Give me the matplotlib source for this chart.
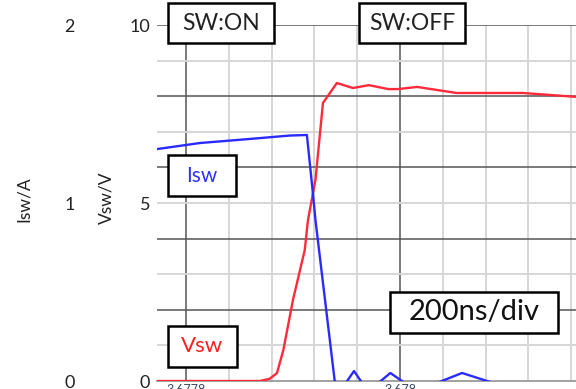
import matplotlib.pyplot as plt
from matplotlib.patches import Rectangle

plt.rcParams['font.family'] = ['Lato', 'DejaVu Sans']

# time in ns relative to 3.6778 ms (200 ns per major division)
t_vsw = [-27, 69, 78, 85, 91, 100, 111, 114, 121, 128, 141, 156, 171, 189, 198, 216, 253, 315, 365]
vsw = [0, 0, 0.06, 0.22, 0.87, 2.28, 3.68, 4.52, 5.65, 7.81, 8.37, 8.23, 8.31, 8.20, 8.20, 8.26, 8.09, 8.09, 7.98]

t_isw = [-27, 13, 60, 97, 113, 118, 121, 139, 146, 150, 157, 164, 174, 181, 191, 203, 219, 237, 258, 284, 312, 365]
isw = [1.303, 1.337, 1.36, 1.379, 1.382, 1.09, 0.904, 0, -0.03, -0.005, 0.056, -0.005, -0.03, -0.005,
       0.045, -0.005, -0.03, -0.005, 0.045, -0.005, -0.03, -0.02]

x_ticks = [0, 200]
x_labels = ['3.6778', '3.678']
v_ticks = [0, 5, 10]
i_ticks = [0, 1, 2]

W, H = 576, 389
fig = plt.figure(figsize=(5.76, 3.89), dpi=100)
ax = fig.add_axes([157 / W, 8 / H, (W - 157) / W, 356 / H])
ax.set_xlim(-27.1, 364.5)
ax.set_ylim(0, 10)

# grid: light every 40 ns / 1 V, dark every 200 ns / 2 V
for gx in range(-40, 400, 40):
    dark = gx % 200 == 0
    ax.axvline(gx, color='#555555' if dark else '#d6d6d6', lw=1.1 if dark else 1.4, zorder=0)
for gy in range(1, 11):
    dark = gy % 2 == 0
    ax.axhline(gy, color='#555555' if dark else '#d6d6d6', lw=1.1 if dark else 1.4, zorder=0)

ax.plot(t_vsw, vsw, color='#ff2a3a', lw=1.7, zorder=3)

for s in ['left', 'right', 'top']:
    ax.spines[s].set_visible(False)
ax.spines['bottom'].set_color('#9a9a9a')
ax.spines['bottom'].set_linewidth(1.3)

ax.set_xticks(x_ticks)
ax.set_xticklabels(x_labels, fontsize=9, color='#3b4a6b')
ax.tick_params(axis='x', length=0, pad=2)
ax.set_yticks(v_ticks)
ax.set_yticklabels([str(v) for v in v_ticks], fontsize=13, color='#222222')
ax.tick_params(axis='y', length=0, pad=5)

ax2 = ax.twinx()
ax2.set_ylim(0, 2)
ax2.plot(t_isw, isw, color='#2a2aff', lw=1.7, zorder=3)
for s in ['left', 'right', 'top', 'bottom']:
    ax2.spines[s].set_visible(False)
ax2.yaxis.set_ticks_position('left')
ax2.spines['left'].set_position(('outward', 54))
ax2.set_yticks(i_ticks)
ax2.set_yticklabels([str(v) for v in i_ticks], fontsize=13, color='#222222')
ax2.tick_params(axis='y', length=0, pad=5)

fig.text(24 / W, 1 - 199 / H, 'Isw/A', rotation=90, ha='center', va='center', fontsize=12.5, color='#222222')
fig.text(106 / W, 1 - 198 / H, 'Vsw/V', rotation=90, ha='center', va='center', fontsize=12.5, color='#222222')

# labelled boxes (pixel coords: x0, y0, x1, y1)
boxes = [
    (168, 3, 274, 43, 'SW:ON', '#222222', 16.5),
    (359, 3, 465, 43, 'SW:OFF', '#222222', 16.5),
    (168, 155, 236, 196, 'Isw', '#3030ff', 15),
    (168, 326, 237, 367, 'Vsw', '#ff2020', 16),
    (390, 292, 558, 333, '200ns/div', '#111111', 21),
]
for x0, y0, x1, y1, txt, col, fs in boxes:
    fig.patches.append(Rectangle((x0 / W, 1 - y1 / H), (x1 - x0) / W, (y1 - y0) / H,
                                 transform=fig.transFigure, facecolor='white',
                                 edgecolor='black', lw=1.8, zorder=5))
    fig.text((x0 + x1) / 2 / W, 1 - (y0 + y1) / 2 / H, txt, ha='center', va='center',
             fontsize=fs, color=col, zorder=6)

fig.savefig('out.png', dpi=100)
